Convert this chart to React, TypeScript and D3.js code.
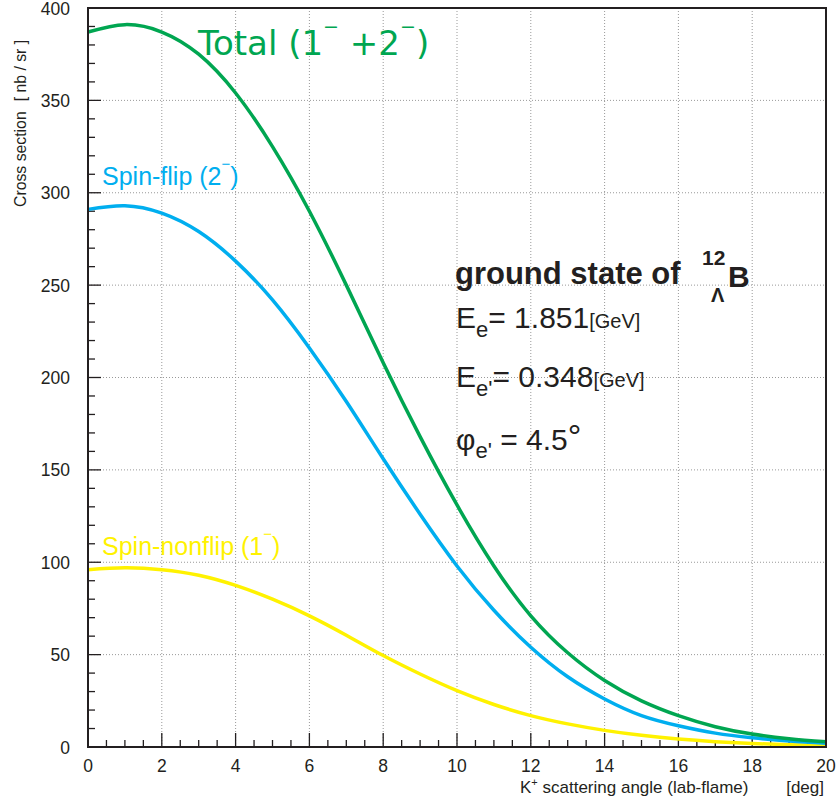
import React from "react";
import * as d3 from "d3";

const angles = [0, 1, 2, 3, 4, 5, 6, 7, 8, 9, 10, 11, 12, 13, 14, 15, 16, 17, 18, 19, 20];
const total = [387, 391, 387, 375, 354, 325, 290, 250, 208, 168, 131, 98, 71, 51, 36, 25, 17, 11, 7, 4.5, 2.8];
const spinFlip = [291, 293, 289, 279, 263, 242, 216, 187, 156, 126, 98, 74, 54, 38, 26, 17, 11.5, 7.5, 5, 3.2, 2];
const spinNonflip = [96, 97, 96, 93, 87.5, 80, 71, 60.5, 49.5, 39.5, 30.5, 23, 17, 12.5, 9, 6.3, 4.3, 2.9, 1.9, 1.2, 0.8];
const xTicks = [0, 2, 4, 6, 8, 10, 12, 14, 16, 18, 20];
const yTicks = [0, 50, 100, 150, 200, 250, 300, 350, 400];

const W = 838, H = 810;
const L = 88, R = 826, T = 8, B = 747;
const INK = "#231f20";

export default function App() {
  const x = d3.scaleLinear().domain([0, 20]).range([L, R]);
  const y = d3.scaleLinear().domain([0, 400]).range([B, T]);
  const line = (vals: number[]) =>
    d3.line<number>().x((_, i) => x(angles[i])).y((v) => y(v)).curve(d3.curveNatural)(vals) || "";
  const xMinor = d3.range(0, 20.001, 0.5);
  const yMinor = d3.range(0, 400.001, 10);
  const font = "Liberation Sans, Arial, sans-serif";
  return (
    <svg width={W} height={H} style={{ position: "absolute", left: 0, top: 0 }} fontFamily={font}>
      <rect width={W} height={H} fill="#fff" />
      {/* grid */}
      {xTicks.slice(1, -1).map((t) => (
        <line key={"gx" + t} x1={x(t)} x2={x(t)} y1={T} y2={B} stroke="#999" strokeWidth={1} strokeDasharray="1,2" />
      ))}
      {yTicks.slice(1, -1).map((t) => (
        <line key={"gy" + t} x1={L} x2={R} y1={y(t)} y2={y(t)} stroke="#999" strokeWidth={1} strokeDasharray="1,2" />
      ))}
      {/* minor ticks */}
      {xMinor.map((t) => (
        <line key={"mx" + t} x1={x(t)} x2={x(t)} y1={B} y2={B - (t % 2 === 0 ? 14 : 7)} stroke={INK} strokeWidth={1.3} />
      ))}
      {yMinor.map((t) => (
        <line key={"my" + t} x1={L} x2={L + (t % 50 === 0 ? 13 : 7)} y1={y(t)} y2={y(t)} stroke={INK} strokeWidth={1.3} />
      ))}
      {/* curves */}
      <path d={line(spinNonflip)} fill="none" stroke="#fff200" strokeWidth={3.5} />
      <path d={line(spinFlip)} fill="none" stroke="#00aeef" strokeWidth={3.5} />
      <path d={line(total)} fill="none" stroke="#00a651" strokeWidth={3.5} />
      {/* frame */}
      <rect x={L} y={T} width={R - L} height={B - T} fill="none" stroke={INK} strokeWidth={2} />
      {/* tick labels */}
      {xTicks.map((t) => (
        <text key={"tx" + t} x={x(t)} y={772} textAnchor="middle" fontSize={17.5} fill={INK}>{t}</text>
      ))}
      {yTicks.map((t) => (
        <text key={"ty" + t} x={70} y={y(t) + 6.5} textAnchor="end" fontSize={17.5} fill={INK}>{t}</text>
      ))}
      {/* axis titles */}
      <text x={520} y={793} fontSize={17} fill={INK}>
        K<tspan dy={-7} fontSize={11}>+</tspan><tspan dy={7}> scattering angle (lab-flame)</tspan>
      </text>
      <text x={824} y={793} textAnchor="end" fontSize={17} fill={INK}>[deg]</text>
      <text transform="translate(26,207) rotate(-90)" fontSize={15.8} fill={INK}>
        Cross section<tspan dx={10}>[ nb / sr ]</tspan>
      </text>
      {/* curve labels */}
      <text x={198} y={55} fontSize={34} fill="#00a651" fontFamily="DejaVu Sans, Verdana, sans-serif">
        Total (1<tspan dy={-22} fontSize={19}>−</tspan><tspan dy={22}> +2</tspan><tspan dy={-22} fontSize={19}>−</tspan><tspan dy={22}>)</tspan>
      </text>
      <text x={102} y={185} fontSize={25} fill="#00aeef">
        Spin-flip (2<tspan dy={-16} fontSize={15}>−</tspan><tspan dy={16}>)</tspan>
      </text>
      <text x={102} y={555} fontSize={25} fill="#fff200">
        Spin-nonflip (1<tspan dy={-16} fontSize={15}>−</tspan><tspan dy={16}>)</tspan>
      </text>
      {/* annotations */}
      <text x={455} y={284} fontSize={31} fontWeight="bold" fill={INK}>ground state of</text>
      <text x={702} y={265} fontSize={21} fontWeight="bold" fill={INK}>12</text>
      <text x={711} y={302} fontSize={20} fontWeight="bold" fill={INK}>Λ</text>
      <text x={728} y={287} fontSize={30} fontWeight="bold" fill={INK}>B</text>
      <text x={456} y={328} fontSize={30} fill={INK}>
        E<tspan dy={9} fontSize={22}>e</tspan><tspan dy={-9}>= 1.851</tspan><tspan fontSize={20}>[GeV]</tspan>
      </text>
      <text x={456} y={387} fontSize={30} fill={INK}>
        E<tspan dy={9} fontSize={22}>e'</tspan><tspan dy={-9}>= 0.348</tspan><tspan fontSize={20}>[GeV]</tspan>
      </text>
      <text x={456} y={450} fontSize={30} fill={INK}>
        φ<tspan dy={8} fontSize={22}>e'</tspan><tspan dy={-8}> = 4.5</tspan><tspan dy={-2} fontSize={34}>°</tspan>
      </text>
    </svg>
  );
}
